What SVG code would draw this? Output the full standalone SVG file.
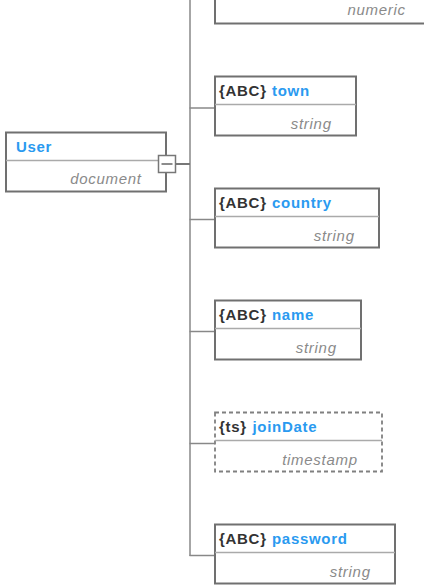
<svg xmlns="http://www.w3.org/2000/svg" width="424" height="585" viewBox="0 0 424 585">
<style>
.box{fill:#fff;stroke:#707070;stroke-width:2}
.dash{stroke-dasharray:4 3;stroke:#808080;stroke-width:1.8}
.div{stroke:#aaa;stroke-width:1.5}
.pre{font-family:"Liberation Sans",Arial,sans-serif;font-size:15px;font-weight:bold;fill:#333;letter-spacing:0.7px}
.nm{font-family:"Liberation Sans",Arial,sans-serif;font-size:15px;font-weight:bold;fill:#2a9af0;letter-spacing:0.7px}
.ty{font-family:"Liberation Sans",Arial,sans-serif;font-size:15px;font-style:italic;fill:#8a8a8a;letter-spacing:0.7px;text-anchor:end}
.con{stroke:#888;stroke-width:1.5;fill:none}
</style>
<rect width="424" height="585" fill="#fff"/>
<g id="connectors">
<line class="con" x1="190" y1="0" x2="190" y2="556"/>
<line class="con" x1="189.5" y1="108" x2="215" y2="108"/>
<line class="con" x1="189.5" y1="219.5" x2="215" y2="219.5"/>
<line class="con" x1="189.5" y1="331.5" x2="215" y2="331.5"/>
<line class="con" x1="189.5" y1="443.5" x2="215" y2="443.5"/>
<line class="con" x1="189.5" y1="555.5" x2="215" y2="555.5"/>
<line x1="176" y1="164" x2="190" y2="164" stroke="#777" stroke-width="2"/>
</g>
<g id="node-numeric">
<rect class="box" x="215" y="-35.5" width="215" height="59"/>
<line class="div" x1="215" y1="-7.5" x2="430" y2="-7.5"/>
<text class="ty" x="405.7" y="15">numeric</text>
</g>
<g id="node-user">
<rect class="box" x="6" y="132.5" width="160" height="59"/>
<line class="div" x1="6" y1="160.5" x2="166" y2="160.5"/>
<text class="nm" x="16" y="152">User</text>
<text class="ty" x="141.7" y="183.5">document</text>
<rect x="158.5" y="155.5" width="17" height="17" fill="#fff" stroke="#777" stroke-width="1.5"/>
<line x1="161.5" y1="164" x2="172.5" y2="164" stroke="#666" stroke-width="1.5"/>
</g>
<g id="node-town">
<rect class="box" x="215" y="76.5" width="141" height="59"/>
<line class="div" x1="215" y1="104.5" x2="356" y2="104.5"/>
<text class="pre" x="219" y="96">{ABC}</text>
<text class="nm" x="272" y="96">town</text>
<text class="ty" x="331.7" y="128.5">string</text>
</g>
<g id="node-country">
<rect class="box" x="215" y="188.5" width="164" height="59"/>
<line class="div" x1="215" y1="216.5" x2="379" y2="216.5"/>
<text class="pre" x="219" y="208">{ABC}</text>
<text class="nm" x="272" y="208">country</text>
<text class="ty" x="354.7" y="240.5">string</text>
</g>
<g id="node-name">
<rect class="box" x="215" y="300.5" width="146" height="59"/>
<line class="div" x1="215" y1="328.5" x2="361" y2="328.5"/>
<text class="pre" x="219" y="320">{ABC}</text>
<text class="nm" x="272" y="320">name</text>
<text class="ty" x="336.7" y="352.5">string</text>
</g>
<g id="node-joinDate">
<rect class="box dash" x="215" y="412.5" width="167" height="59"/>
<line class="div" x1="215" y1="440.5" x2="382" y2="440.5"/>
<text class="pre" x="219" y="432">{ts}</text>
<text class="nm" x="252.5" y="432">joinDate</text>
<text class="ty" x="357.7" y="464.5">timestamp</text>
</g>
<g id="node-password">
<rect class="box" x="215" y="524.5" width="180" height="59"/>
<line class="div" x1="215" y1="552.5" x2="395" y2="552.5"/>
<text class="pre" x="219" y="544">{ABC}</text>
<text class="nm" x="272" y="544">password</text>
<text class="ty" x="370.7" y="576.5">string</text>
</g>
</svg>
